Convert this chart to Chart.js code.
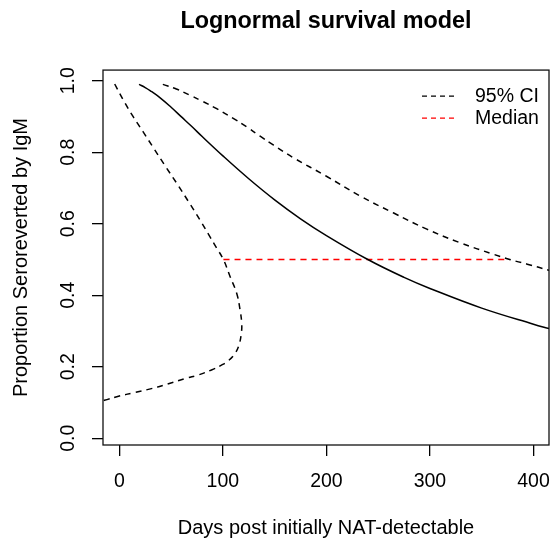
<!DOCTYPE html>
<html>
<head>
<meta charset="utf-8">
<script src="https://cdn.jsdelivr.net/npm/chart.js@4"></script>
<style>
  html, body { margin: 0; padding: 0; background: #fff; }
</style>
</head>
<body>
<canvas id="surv" width="551" height="538"></canvas>
<script>
// ---- data ----
// fitted median survival curve
const medDays = [19, 25, 30, 40, 50, 60, 70, 80, 100, 125, 150, 175, 200, 240, 275, 300, 350, 400, 416];
const medSurv = [0.990, 0.981, 0.972, 0.951, 0.926, 0.899, 0.872, 0.844, 0.790, 0.726, 0.667, 0.614, 0.567, 0.500, 0.450, 0.419, 0.364, 0.319, 0.306];

// upper 95% bound
const upDays = [42, 55, 68, 80, 94, 110, 123, 136, 149, 168, 200, 233, 265, 297, 329, 361, 377, 394, 416];
const upSurv = [0.990, 0.977, 0.960, 0.943, 0.922, 0.895, 0.871, 0.845, 0.820, 0.785, 0.733, 0.677, 0.630, 0.585, 0.547, 0.515, 0.500, 0.487, 0.469];

// lower 95% bound (folds back on itself)
const loDays = [-4.5, 4, 13.5, 23, 33, 44, 55.5, 67, 78, 88, 94, 100.5, 107, 113.4, 116.6, 118.2, 117.8, 115.5, 111.5, 105, 99, 89, 76.3, 65, 46, 30, 13.5, 0, -12, -17];
const loSurv = [0.991, 0.945, 0.899, 0.857, 0.812, 0.763, 0.713, 0.661, 0.610, 0.561, 0.532, 0.500, 0.452, 0.405, 0.359, 0.321, 0.293, 0.260, 0.236, 0.216, 0.205, 0.191, 0.177, 0.168, 0.151, 0.138, 0.127, 0.118, 0.108, 0.104];

// median survival time and its CI, drawn at S = 0.5
const medLineDays = [100.5, 377];
const medLineVals = [0.5, 0.5];

const xTicks = [0, 100, 200, 300, 400];
const yTicks = [0, 0.2, 0.4, 0.6, 0.8, 1.0];
const legendLabels = ['95% CI', 'Median'];
const legendColors = ['#000', '#ff0000'];

const FONT = "'Liberation Sans', Arial, Helvetica, sans-serif";
const DASH = [6, 5];

const pts = (xs, ys) => xs.map((x, i) => ({ x, y: ys[i] }));

// R-style extras: box round the plot, rotated y tick labels, borderless legend
const rStyle = {
  id: 'rStyle',
  afterDraw(chart) {
    const { ctx, chartArea: ca } = chart;
    const y = chart.scales.y;
    ctx.save();
    ctx.strokeStyle = '#111';
    ctx.lineWidth = 1.3;
    ctx.strokeRect(ca.left, ca.top, ca.right - ca.left, ca.bottom - ca.top);

    ctx.fillStyle = '#000';
    ctx.font = `19.5px ${FONT}`;
    ctx.textAlign = 'center';
    ctx.textBaseline = 'alphabetic';
    yTicks.forEach(v => {
      ctx.save();
      ctx.translate(74, y.getPixelForValue(v));
      ctx.rotate(-Math.PI / 2);
      ctx.fillText(v.toFixed(1), 0, 0);
      ctx.restore();
    });

    ctx.textAlign = 'left';
    ctx.textBaseline = 'middle';
    legendLabels.forEach((lab, i) => {
      const ly = ca.top + 26 + i * 22;
      ctx.strokeStyle = legendColors[i];
      ctx.lineWidth = 1.4;
      ctx.setLineDash([5, 4]);
      ctx.beginPath(); ctx.moveTo(ca.right - 127, ly); ctx.lineTo(ca.right - 93, ly); ctx.stroke();
      ctx.setLineDash([]);
      ctx.fillText(lab, ca.right - 74, ly + 1);
    });
    ctx.restore();
  },
};

const line = (label, data, color, dash) => ({
  label, data, showLine: true, pointRadius: 0, borderColor: color,
  borderWidth: 1.5, borderDash: dash, tension: 0.4, fill: false,
});

new Chart(document.getElementById('surv'), {
  type: 'scatter',
  data: {
    datasets: [
      line('Median survival', pts(medDays, medSurv), '#000', []),
      line('95% CI upper', pts(upDays, upSurv), '#000', DASH),
      line('95% CI lower', pts(loDays, loSurv), '#000', DASH),
      line('Median', pts(medLineDays, medLineVals), '#ff0000', DASH),
    ],
  },
  options: {
    responsive: false,
    animation: false,
    layout: { padding: { left: 0, right: 2, top: 0, bottom: 0 } },
    plugins: {
      legend: { display: false },
      tooltip: { enabled: false },
      title: {
        display: true, text: 'Lognormal survival model', fullSize: false, color: '#000',
        font: { family: FONT, size: 23.4, weight: 'bold' },
        padding: { top: 8, bottom: 34 },
      },
    },
    scales: {
      x: {
        type: 'linear', min: -15.8, max: 415,
        afterBuildTicks: s => { s.ticks = xTicks.map(v => ({ value: v })); },
        afterFit: s => { s.height = 93; s.paddingLeft = 0; s.paddingRight = 0; },
        grid: { drawOnChartArea: false, tickLength: 11, color: '#000', lineWidth: 1.3 },
        border: { display: false },
        ticks: { color: '#000', padding: 14, font: { family: FONT, size: 19.5 } },
        title: {
          display: true, text: 'Days post initially NAT-detectable', color: '#000',
          font: { family: FONT, size: 20 }, padding: { top: 0, bottom: -2 },
        },
      },
      y: {
        type: 'linear', min: -0.019, max: 1.03,
        afterBuildTicks: s => { s.ticks = yTicks.map(v => ({ value: v })); },
        afterFit: s => { s.width = 103; s.paddingTop = 0; s.paddingBottom = 0; },
        grid: { drawOnChartArea: false, tickLength: 11, color: '#000', lineWidth: 1.3 },
        border: { display: false },
        ticks: { display: false },
        title: {
          display: true, text: 'Proportion Seroreverted by IgM', color: '#000',
          font: { family: FONT, size: 20 }, padding: { top: 9, bottom: 0 },
        },
      },
    },
  },
  plugins: [rStyle],
});
</script>
</body>
</html>
